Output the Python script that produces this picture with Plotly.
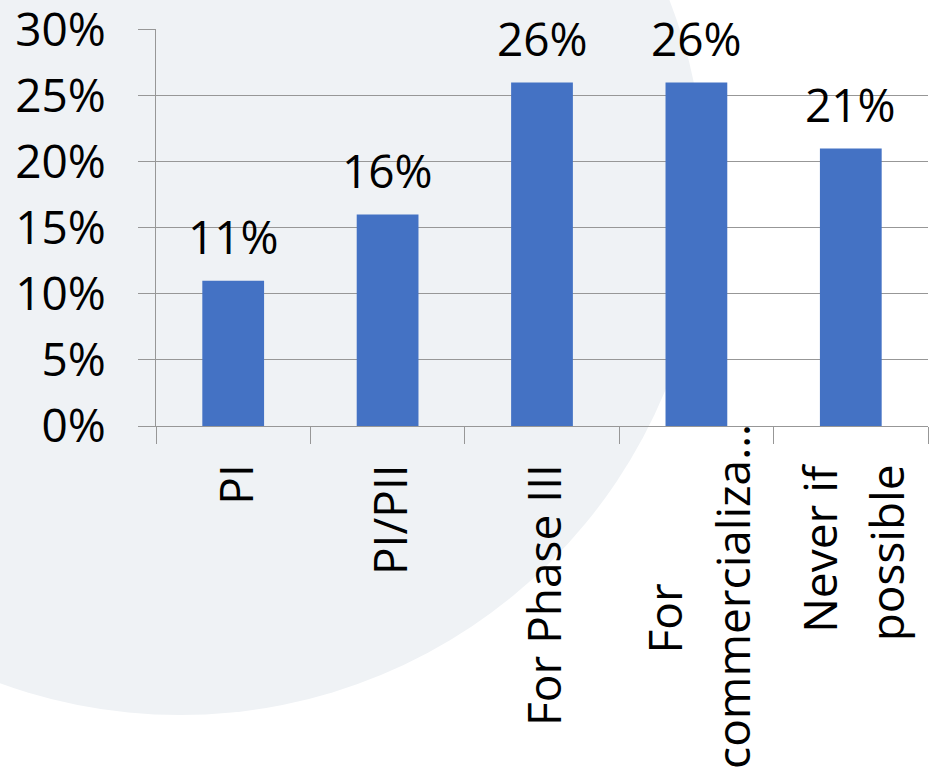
import plotly.graph_objects as go

# Survey answers and their shares
categories = ["PI", "PI/PII", "For Phase III", "For commercialization", "Never if possible"]
shares = [0.11, 0.16, 0.26, 0.26, 0.21]
# Wrapped axis text for each category (one entry per printed line)
label_lines = [["PI"], ["PI/PII"], ["For Phase III"], ["For", "commercializa…"], ["Never if", "possible"]]
y_ticks = [0, 0.05, 0.10, 0.15, 0.20, 0.25, 0.30]

W, H = 932, 769
L, R, T, B = 156, 4, 29, 343
plot_h = H - T - B
plot_w = W - L - R

FONT = "Open Sans"
FS = 46
GRID = "#979797"
BAR = "#4472C4"


def py(pix):
    """pixel row -> paper y"""
    return (H - B - pix) / plot_h


def px(pix):
    """pixel column -> paper x"""
    return (pix - L) / plot_w


fig = go.Figure(
    go.Bar(
        x=categories,
        y=shares,
        marker=dict(color=BAR, line=dict(width=0)),
        hoverinfo="skip",
    )
)

annotations = []
# value labels above the bars
for cat, val in zip(categories, shares):
    annotations.append(dict(
        x=cat, y=val, xref="x", yref="y",
        text=f"{round(val * 100)}%", showarrow=False,
        yanchor="bottom", xanchor="center", yshift=13, borderpad=0,
        font=dict(family=FONT, size=FS, color="black"),
    ))

# rotated category text, one annotation per line: (horizontal shift, top pixel row)
two_line_spots = {
    3: [(-32, 582), (35, 423)],
    4: [(-32, 462), (35, 463)],
}
for i, (cat, lines) in enumerate(zip(categories, label_lines)):
    spots = [(1, 463)] if len(lines) == 1 else two_line_spots[i]
    for text, (dx, top) in zip(lines, spots):
        annotations.append(dict(
            x=cat, y=py(top), xref="x", yref="paper",
            text=text, showarrow=False, textangle=-90,
            xanchor="center", yanchor="top", xshift=dx, borderpad=0,
            font=dict(family=FONT, size=FS, color="black"),
        ))

# faint globe behind the chart
cx, cy, rad = 180, 190, 525
shapes = [dict(
    type="circle", xref="paper", yref="paper", layer="below",
    x0=px(cx - rad), x1=px(cx + rad), y0=py(cy + rad), y1=py(cy - rad),
    fillcolor="#eff2f5", line=dict(width=0),
)]

fig.update_layout(
    width=W, height=H,
    margin=dict(l=L, r=R, t=T, b=B, pad=0, autoexpand=False),
    paper_bgcolor="white",
    plot_bgcolor="rgba(0,0,0,0)",
    bargap=0.6,
    showlegend=False,
    font=dict(family=FONT, size=FS, color="black"),
    annotations=annotations,
    shapes=shapes,
    xaxis=dict(
        type="category",
        automargin=False,
        showticklabels=False,
        tickson="boundaries",
        ticks="outside", ticklen=17, tickwidth=1, tickcolor=GRID,
        showline=True, linecolor=GRID, linewidth=1,
        showgrid=False, zeroline=False,
    ),
    yaxis=dict(
        automargin=False,
        range=[0, 0.3005],
        tickmode="array", tickvals=y_ticks,
        ticktext=[f"{round(v * 100)}%" for v in y_ticks],
        ticks="outside", ticklen=17, tickwidth=1, tickcolor=GRID,
        showline=True, linecolor=GRID, linewidth=1,
        showgrid=True, gridcolor=GRID, gridwidth=1,
        zeroline=False,
        ticklabelstandoff=23,
        ticklabeloverflow="allow",
        tickfont=dict(family=FONT, size=FS, color="black"),
    ),
)

fig.write_html("out.html")
